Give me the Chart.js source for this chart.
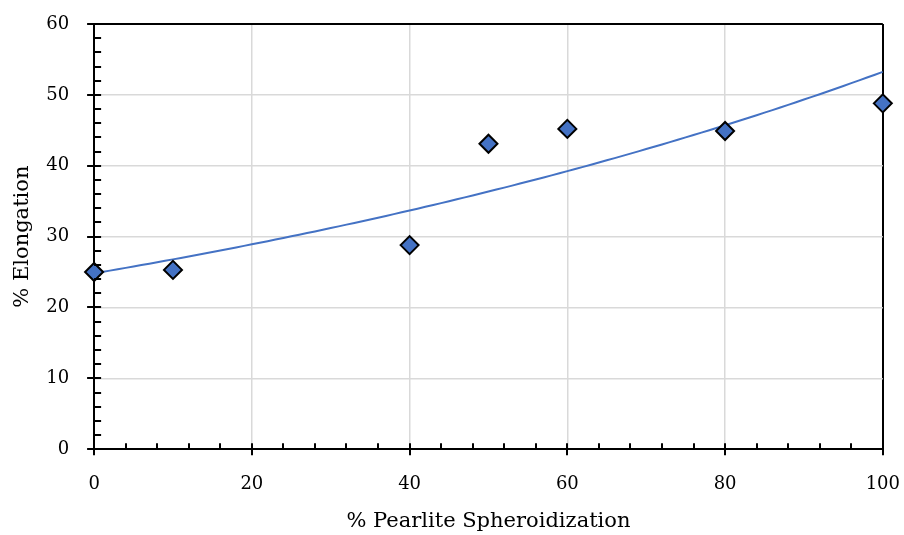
<!DOCTYPE html>
<html>
<head>
<meta charset="utf-8">
<title>% Elongation vs % Pearlite Spheroidization</title>
<script src="https://cdn.jsdelivr.net/npm/chart.js@4/dist/chart.umd.min.js"></script>
<style>
  html, body { margin: 0; padding: 0; background: #fff; }
  #wrap { width: 904px; height: 535px; }
</style>
</head>
<body>
<div id="wrap"><canvas id="myChart" width="904" height="535"></canvas></div>
<script>
// measured points
let spheroidization = [0, 10, 40, 50, 60, 80, 100];
let elongation = [25.0, 25.3, 28.8, 43.1, 45.2, 44.9, 48.8];

// axis ranges / tick steps
let xTicks = [0, 20, 40, 60, 80, 100];
let yTicks = [0, 10, 20, 30, 40, 50, 60];
let xMinorStep = 4;
let yMinorStep = 2;

let blue = "#4472C4";
let gridGrey = "#d9d9d9";
let tickFont = { family: "'DejaVu Serif', serif", size: 18 };
let titleFont = { family: "'DejaVu Serif', serif", size: 21 };

//exponential trendline y = a*e^(bx), least squares on ln(y)
function expFit(xs, ys) {
  let n = xs.length;
  let lys = ys.map(v => Math.log(v));
  let mx = xs.reduce((s, v) => s + v, 0) / n;
  let my = lys.reduce((s, v) => s + v, 0) / n;
  let sxx = 0, sxy = 0;
  for (let i = 0; i < n; i++) {
    sxx += (xs[i] - mx) * (xs[i] - mx);
    sxy += (xs[i] - mx) * (lys[i] - my);
  }
  let b = sxy / sxx;
  let a = Math.exp(my - b * mx);
  return x => a * Math.exp(b * x);
}
let trend = expFit(spheroidization, elongation);
let trendPoints = [];
for (let x = 0; x <= 100; x += 2) {
  trendPoints.push({ x: x, y: trend(x) });
}

let points = spheroidization.map((x, i) => ({ x: x, y: elongation[i] }));

//draw tick marks: major ticks cross the axis, minor ticks point inward
let tickMarks = {
  id: "tickMarks",
  afterDatasetsDraw(chart) {
    let ctx = chart.ctx;
    let xs = chart.scales.x, ys = chart.scales.y;
    let area = chart.chartArea;
    ctx.save();
    ctx.strokeStyle = "#000";
    ctx.lineWidth = 2;
    ctx.beginPath();
    for (let v = xs.min; v <= xs.max; v += xMinorStep) {
      let px = Math.round(xs.getPixelForValue(v));
      let major = xTicks.includes(v);
      ctx.moveTo(px, area.bottom + (major ? 6 : 0));
      ctx.lineTo(px, area.bottom - 6);
    }
    for (let v = ys.min; v <= ys.max; v += yMinorStep) {
      let py = Math.round(ys.getPixelForValue(v));
      let major = yTicks.includes(v);
      ctx.moveTo(area.left - (major ? 7 : 0), py);
      ctx.lineTo(area.left + 7, py);
    }
    ctx.stroke();
    ctx.restore();
  }
};

let ctx = document.getElementById("myChart").getContext("2d");
let myChart = new Chart(ctx, {
  type: "scatter",
  data: {
    datasets: [
      {
        label: "Elongation",
        data: points,
        pointStyle: "rectRot",
        pointRadius: 9,
        pointBackgroundColor: blue,
        pointBorderColor: "#000",
        pointBorderWidth: 2,
        showLine: false,
        clip: false,
        order: 0,
      },
      {
        label: "Expon. (Elongation)",
        data: trendPoints,
        showLine: true,
        borderColor: blue,
        borderWidth: 2,
        pointRadius: 0,
        tension: 0.3,
        order: 1,
      },
    ],
  },
  options: {
    responsive: false,
    animation: false,
    layout: { padding: { top: 24, right: 0, left: 10, bottom: 1 } },
    plugins: {
      legend: { display: false },
      tooltip: { enabled: false },
    },
    scales: {
      x: {
        type: "linear",
        min: 0,
        max: 100,
        afterBuildTicks: s => { s.ticks = xTicks.map(v => ({ value: v })); },
        ticks: { color: "#000", font: tickFont, padding: 4, maxRotation: 0 },
        grid: {
          tickLength: 20,
          tickColor: "transparent",
          lineWidth: ctx => (ctx.tick && ctx.tick.value === 100 ? 2 : 1.5),
          color: ctx => (ctx.tick && ctx.tick.value === 100 ? "#000" : gridGrey),
        },
        border: { display: true, color: "#000", width: 2 },
        title: { display: true, text: "% Pearlite Spheroidization", color: "#000", font: titleFont, padding: { top: 10, bottom: 0 } },
      },
      y: {
        type: "linear",
        min: 0,
        max: 60,
        afterBuildTicks: s => { s.ticks = yTicks.map(v => ({ value: v })); },
        ticks: { color: "#000", font: tickFont, padding: 5 },
        grid: {
          tickLength: 20,
          tickColor: "transparent",
          lineWidth: ctx => (ctx.tick && ctx.tick.value === 60 ? 2 : 1.5),
          color: ctx => (ctx.tick && ctx.tick.value === 60 ? "#000" : gridGrey),
        },
        border: { display: true, color: "#000", width: 2 },
        title: { display: true, text: "% Elongation", color: "#000", font: titleFont, padding: { top: 0, bottom: 6 } },
      },
    },
  },
  plugins: [tickMarks],
});
</script>
</body>
</html>
